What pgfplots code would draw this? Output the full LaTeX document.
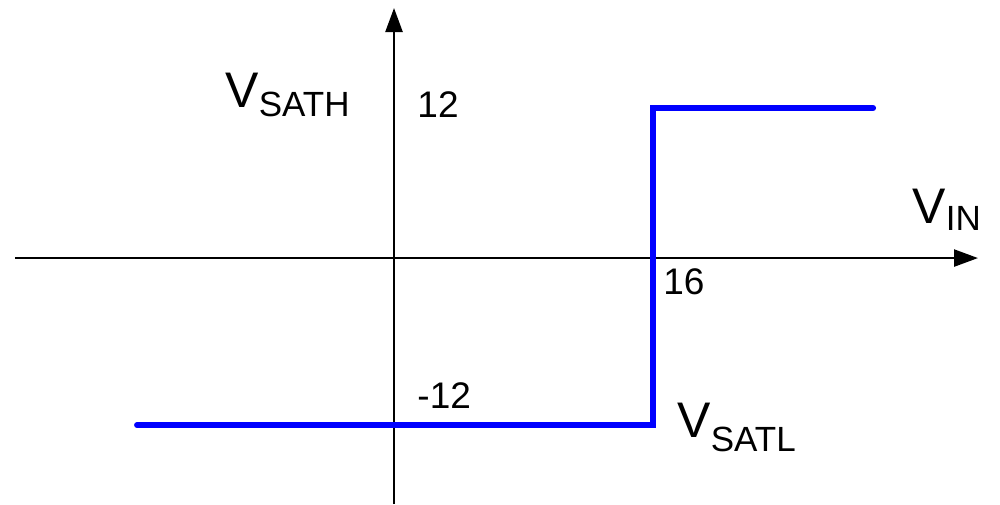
\documentclass[border=0pt]{standalone}
\usepackage{fontspec}
\setmainfont{Liberation Sans}
\usepackage{pgfplots}
\pgfplotsset{compat=1.18}
\usetikzlibrary{arrows.meta}
\newcommand{\bigV}{\fontsize{25}{30}\selectfont V}
\newcommand{\sub}[2]{\raisebox{-#1}{\fontsize{17.5}{20}\selectfont #2}}
\begin{document}
\begin{tikzpicture}
\begin{axis}[
  scale only axis,
  width=481.5pt, height=248pt,
  xmin=-23.41, xmax=36.07,
  ymin=-17.67, ymax=20,
  axis lines=middle,
  axis line style={line width=1.2pt, -{Triangle[length=12pt,width=8.5pt]}},
  ticks=none,
  clip=false,
  y coord trafo/.code={\pgfmathparse{(#1<0)?(1.1133*(#1)):(#1)}},
  y coord inv trafo/.code={\pgfmathparse{(#1<0)?((#1)/1.1133):(#1)}},
]
\addplot[color=blue, line width=3pt, line cap=round, line join=miter, mark=none]
  coordinates {(-15.87,-12) (16,-12) (16,12) (29.59,12)};
\node[anchor=base west, inner sep=0pt] at (rel axis cs:0.2181,0.7984) {\bigV\sub{4.5pt}{SATH}};
\node[anchor=base west, inner sep=0pt] at (rel axis cs:0.4175,0.7802) {\fontsize{18.5}{22}\selectfont 12};
\node[anchor=base west, inner sep=0pt] at (rel axis cs:0.4175,0.1935) {\fontsize{18.5}{22}\selectfont -12};
\node[anchor=base west, inner sep=0pt] at (rel axis cs:0.6729,0.4214) {\fontsize{18.5}{22}\selectfont 16};
\node[anchor=base west, inner sep=0pt] at (rel axis cs:0.6875,0.1331) {\bigV\sub{7pt}{SATL}};
\node[anchor=base west, inner sep=0pt] at (rel axis cs:0.9315,0.5665) {\bigV\sub{3.5pt}{IN}};
\end{axis}
\pgfresetboundingbox
\path (current axis.south west) ++(-7.5pt,0pt) rectangle ++(500pt,252pt);
\end{tikzpicture}
\end{document}
